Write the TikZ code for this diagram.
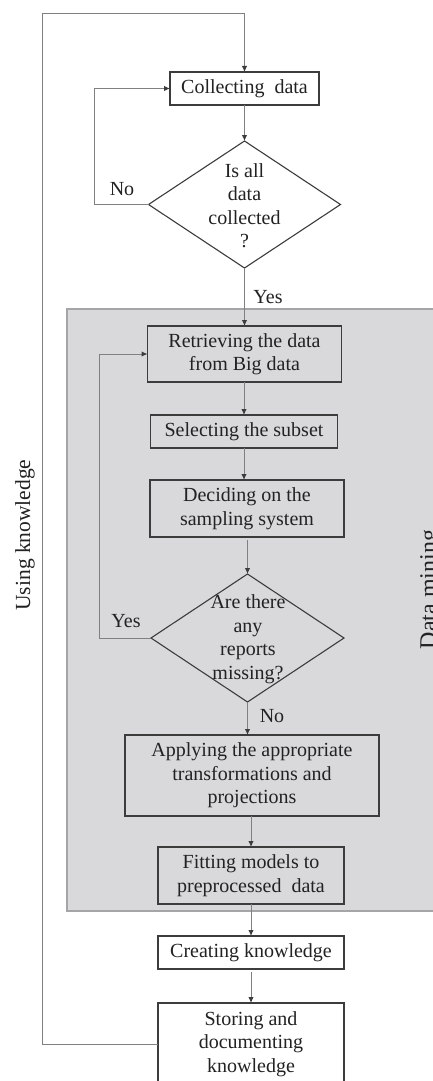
\documentclass[tikz,border=0pt]{standalone}
\usepackage{fontspec}
\setmainfont{Liberation Serif}
\usetikzlibrary{shapes.geometric,arrows.meta}
\definecolor{bg}{HTML}{D9D9DB}
\definecolor{bgedge}{HTML}{A5A5A7}
\definecolor{boxedge}{HTML}{3C3C3C}
\definecolor{conn}{HTML}{808080}
\definecolor{txt}{HTML}{222222}
\tikzset{
  boxnode/.style={draw=boxedge, line width=1.2pt, rectangle, inner sep=0pt, outer sep=0pt, align=center, text=txt,
    font=\fontsize{20}{23.5}\selectfont},
  whitebox/.style={boxnode, fill=white},
  dianode/.style={draw=boxedge, line width=1.1pt, shape=diamond, inner sep=0pt, outer sep=0pt},
  diatext/.style={align=center, text=txt, inner sep=0pt, font=\fontsize{20}{23.5}\selectfont},
  lbl/.style={text=txt, inner sep=0pt, font=\fontsize{20}{23.5}\selectfont},
  sidelbl/.style={text=txt, inner sep=0pt, rotate=90, anchor=north},
  conline/.style={draw=conn, line width=1pt},
  arr/.style={conline, -{Latex[length=6pt,width=5.5pt,color=boxedge]}},
}
\begin{document}
\begin{tikzpicture}[x=1pt,y=-1pt]
\useasboundingbox (0,0) rectangle (433,1081);
\fill[white] (0,0) rectangle (433,1081);
% data mining region
\draw[fill=bg, draw=bgedge, line width=1.5pt] (67,309) rectangle (450,911);
\node[sidelbl, font=\fontsize{24}{28}\selectfont] (dmlabel) at (420,589.5) {Data mining};
\node[sidelbl, font=\fontsize{21.5}{25}\selectfont] (uklabel) at (15,535) {Using knowledge};

% nodes
\node[whitebox, minimum width=149pt, minimum height=33pt] (collect) at (244.5,88.5) {Collecting\ \ data};
\node[dianode, fill=white, minimum width=192pt, minimum height=127pt] (d1) at (244.5,204.5) {};
\node[diatext] (d1t) at (244.5,205.5) {Is all\\data\\collected\\?};

\node[boxnode, minimum width=194pt, minimum height=56pt] (retr) at (244.5,354) {Retrieving the data\\from Big data};
\node[boxnode, minimum width=187pt, minimum height=33pt] (sel) at (244,431.5) {Selecting the subset};
\node[boxnode, minimum width=194pt, minimum height=57pt] (dec) at (247,508.5) {Deciding on the\\sampling system};
\node[dianode, minimum width=193pt, minimum height=128pt] (d2) at (247.5,638) {};
\node[diatext] (d2t) at (248,639) {Are there\\any\\reports\\missing?};
\node[boxnode, minimum width=254pt, minimum height=81pt] (app) at (252,775.5) {Applying the appropriate\\transformations and\\projections};
\node[boxnode, minimum width=186pt, minimum height=57pt] (fit) at (251,875.5) {Fitting models to\\preprocessed\ \ data};
\node[whitebox, minimum width=186pt, minimum height=33pt] (create) at (251,952.5) {Creating knowledge};
\node[whitebox, minimum width=186pt, minimum height=82pt] (store) at (251,1044) {Storing and\\documenting\\knowledge};

% labels
\node[lbl] (no1) at (122,189) {No};
\node[lbl] (yes1) at (268,297) {Yes};
\node[lbl] (yes2) at (126,621) {Yes};
\node[lbl] (no2) at (272,716) {No};

% loop corner coordinates
\coordinate (ul) at (42,14);
\coordinate (nl) at (94,0);
\coordinate (yl) at (99,0);

% connectors
\draw[arr] (collect.south) -- (collect.south |- d1.north);
\draw[arr] (d1.south) -- (d1.south |- retr.north);
\draw[arr] (sel.north |- retr.south) -- (sel.north);
\draw[arr] (sel.south) -- (sel.south |- dec.north);
\draw[arr, shorten <=3pt] (d2.north |- dec.south) -- (d2.north);
\draw[arr] (d2.south) -- (d2.south |- app.north);
\draw[arr] (fit.north |- app.south) -- (fit.north);
\draw[arr] (fit.south) -- (create.north);
\draw[arr, shorten <=3pt] (create.south) -- (store.north);

\draw[arr] (d1.west) -- (d1.west -| nl) |- (collect.west);
\draw[arr] (d2.west) -- (d2.west -| yl) |- (retr.west);
\draw[arr] (store.west) -| (ul) -| (collect.north);
\end{tikzpicture}
\end{document}
